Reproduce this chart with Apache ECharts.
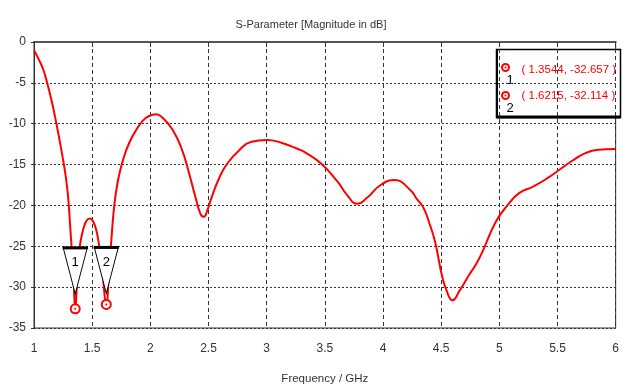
<!DOCTYPE html>
<html>
<head>
<meta charset="utf-8">
<script src="https://cdn.jsdelivr.net/npm/echarts@6/dist/echarts.min.js"></script>
<style>html,body{margin:0;padding:0;background:#fff}#c{width:622px;height:390px}</style>
</head>
<body>
<div id="c"></div>
<script>
// Frequency (GHz) and S11 magnitude (dB)
var freq = [1.00,1.04,1.08,1.113,1.15,1.193,1.236,1.264,1.284,1.298,1.313,1.325,1.34,1.3544,1.37,1.39,1.42,1.45,1.48,1.51,1.54,1.56,1.59,1.6215,1.645,1.662,1.69,1.72,1.76,1.82,1.90,1.96,2.02,2.05,2.10,2.19,2.27,2.33,2.39,2.43,2.46,2.49,2.52,2.59,2.66,2.76,2.87,3.00,3.12,3.27,3.33,3.47,3.61,3.69,3.78,3.86,3.98,4.10,4.234,4.29,4.348,4.404,4.447,4.476,4.504,4.546,4.597,4.66,4.745,4.80,4.86,4.97,5.07,5.17,5.29,5.41,5.51,5.63,5.74,5.85,6.00];
var sdb  = [-1.0,-2.1,-3.4,-5.0,-7.1,-10.0,-13.3,-15.6,-17.7,-19.8,-23.0,-25.5,-29.0,-32.657,-29.5,-25.4,-23.1,-21.9,-21.6,-22.0,-23.3,-25.0,-28.5,-32.114,-28.0,-24.8,-20.0,-17.1,-14.7,-12.3,-10.3,-9.3,-8.9,-8.85,-9.2,-10.7,-13.1,-15.9,-19.1,-21.0,-21.4,-20.6,-19.3,-16.7,-14.9,-13.3,-12.2,-12.0,-12.3,-13.1,-13.5,-14.9,-17.1,-18.7,-19.8,-19.1,-17.5,-16.9,-18.1,-19.2,-20.3,-22.4,-24.4,-26.4,-28.4,-30.4,-31.6,-30.4,-28.4,-27.2,-25.5,-22.0,-20.0,-18.5,-17.7,-16.7,-15.7,-14.5,-13.6,-13.2,-13.1];
// Markers
var markerNames = ['1','2'];
var markerFreq = [1.3544, 1.6215];
var markerDb = [-32.657, -32.114];
// Axis ticks
var xTicks = [1,1.5,2,2.5,3,3.5,4,4.5,5,5.5,6];
var yTicks = [0,-5,-10,-15,-20,-25,-30,-35];

var FONT = '"Liberation Sans", Arial, sans-serif';
var curve = freq.map(function(f,i){return [f, sdb[i]];});
var markerPts = markerFreq.map(function(f,i){return {name: markerNames[i], value:[f, markerDb[i]]};});
var tipGap = [15, 11];
var triPts = markerFreq.map(function(f,i){return {name: markerNames[i], value:[f, markerDb[i]], symbolOffset:[0, -(tipGap[i]+23)]};});
var barPts = markerFreq.map(function(f,i){return {name: markerNames[i], value:[f, markerDb[i]], symbolOffset:[0, -(tipGap[i]+46)]};});

var chart = echarts.init(document.getElementById('c'), null, {renderer:'canvas'});
var legendText = markerNames.map(function(n,i){return '( ' + markerFreq[i].toFixed(4) + ', ' + markerDb[i].toFixed(3) + ' )';});

chart.setOption({
  animation:false,
  backgroundColor:'#fff',
  title:{text:'S-Parameter [Magnitude in dB]', left:'center', top:14,
    textStyle:{fontFamily:FONT, fontSize:11, fontWeight:'normal', color:'#333'}},
  grid:{left:34, right:2, top:42, bottom:58, show:true, borderColor:'#333', borderWidth:1, backgroundColor:'transparent'},
  xAxis:{type:'value', min:xTicks[0], max:xTicks[xTicks.length-1], interval:0.5,
    name:'Frequency / GHz', nameLocation:'middle', nameGap:45,
    nameTextStyle:{fontFamily:FONT, fontSize:11.5, color:'#333'},
    axisLine:{show:true, lineStyle:{color:'#555', width:2}},
    axisTick:{show:true, length:5, lineStyle:{color:'#333'}},
    axisLabel:{fontFamily:FONT, fontSize:12, color:'#333', margin:15,
      formatter:function(v){return String(v);} },
    splitLine:{show:true, lineStyle:{color:'#333', type:[4,3], width:1}}
  },
  yAxis:{type:'value', min:yTicks[yTicks.length-1], max:yTicks[0], interval:5,
    axisLine:{show:true, lineStyle:{color:'#333', width:1}},
    axisTick:{show:true, length:3, lineStyle:{color:'#333'}},
    axisLabel:{fontFamily:FONT, fontSize:12, color:'#333', margin:8},
    splitLine:{show:true, lineStyle:{color:'#333', type:[2,2], width:1}}
  },
  series:[
    {type:'line', data:curve, showSymbol:false, smooth:0.5, z:2,
      lineStyle:{color:'#ff0000', width:2}},
    {type:'scatter', data:triPts, z:3, symbol:'path://M0,0 L24,0 L12,46 Z', symbolSize:[24,46],
      itemStyle:{color:'#fff', opacity:1, borderColor:'#000', borderWidth:1.2},
      label:{show:true, position:'inside', offset:[0,-8], formatter:'{b}', color:'#000', fontFamily:FONT, fontSize:13}},
    {type:'scatter', data:barPts, z:4, symbol:'rect', symbolSize:[25,3],
      itemStyle:{color:'#000', opacity:1}},
    {type:'scatter', data:markerPts, z:5, symbol:'circle', symbolSize:9,
      itemStyle:{color:'#fff', opacity:1, borderColor:'#ff0000', borderWidth:2}},
    {type:'scatter', data:markerPts, z:6, symbol:'circle', symbolSize:2,
      itemStyle:{color:'#ff0000', opacity:1}}
  ],
  graphic:[
    {type:'group', left:494, top:47, children:[
      {type:'rect', shape:{x:0, y:0, width:124, height:68}, style:{fill:'#fff', stroke:'#000', lineWidth:1.5}},
      {type:'line', shape:{x1:0.5, y1:0, x2:0.5, y2:68}, style:{stroke:'#000', lineWidth:2}},
      {type:'line', shape:{x1:0, y1:67.5, x2:124, y2:67.5}, style:{stroke:'#000', lineWidth:3}},
      {type:'circle', shape:{cx:9, cy:18, r:3.5}, style:{fill:'#fff', stroke:'#ff0000', lineWidth:2}},
      {type:'circle', shape:{cx:9, cy:18, r:1}, style:{fill:'#ff0000'}},
      {type:'text', style:{x:10, y:31, text:markerNames[0], fill:'#000', font:'13px ' + FONT, textVerticalAlign:'middle', textAlign:'left'}},
      {type:'text', style:{x:25, y:20, text:legendText[0], fill:'#ff0000', font:'11.5px ' + FONT, textVerticalAlign:'middle', textAlign:'left'}},
      {type:'circle', shape:{cx:9, cy:46, r:3.5}, style:{fill:'#fff', stroke:'#ff0000', lineWidth:2}},
      {type:'circle', shape:{cx:9, cy:46, r:1}, style:{fill:'#ff0000'}},
      {type:'text', style:{x:10, y:59, text:markerNames[1], fill:'#000', font:'13px ' + FONT, textVerticalAlign:'middle', textAlign:'left'}},
      {type:'text', style:{x:25, y:46, text:legendText[1], fill:'#ff0000', font:'11.5px ' + FONT, textVerticalAlign:'middle', textAlign:'left'}}
    ]}
  ]
});
</script>
</body>
</html>
